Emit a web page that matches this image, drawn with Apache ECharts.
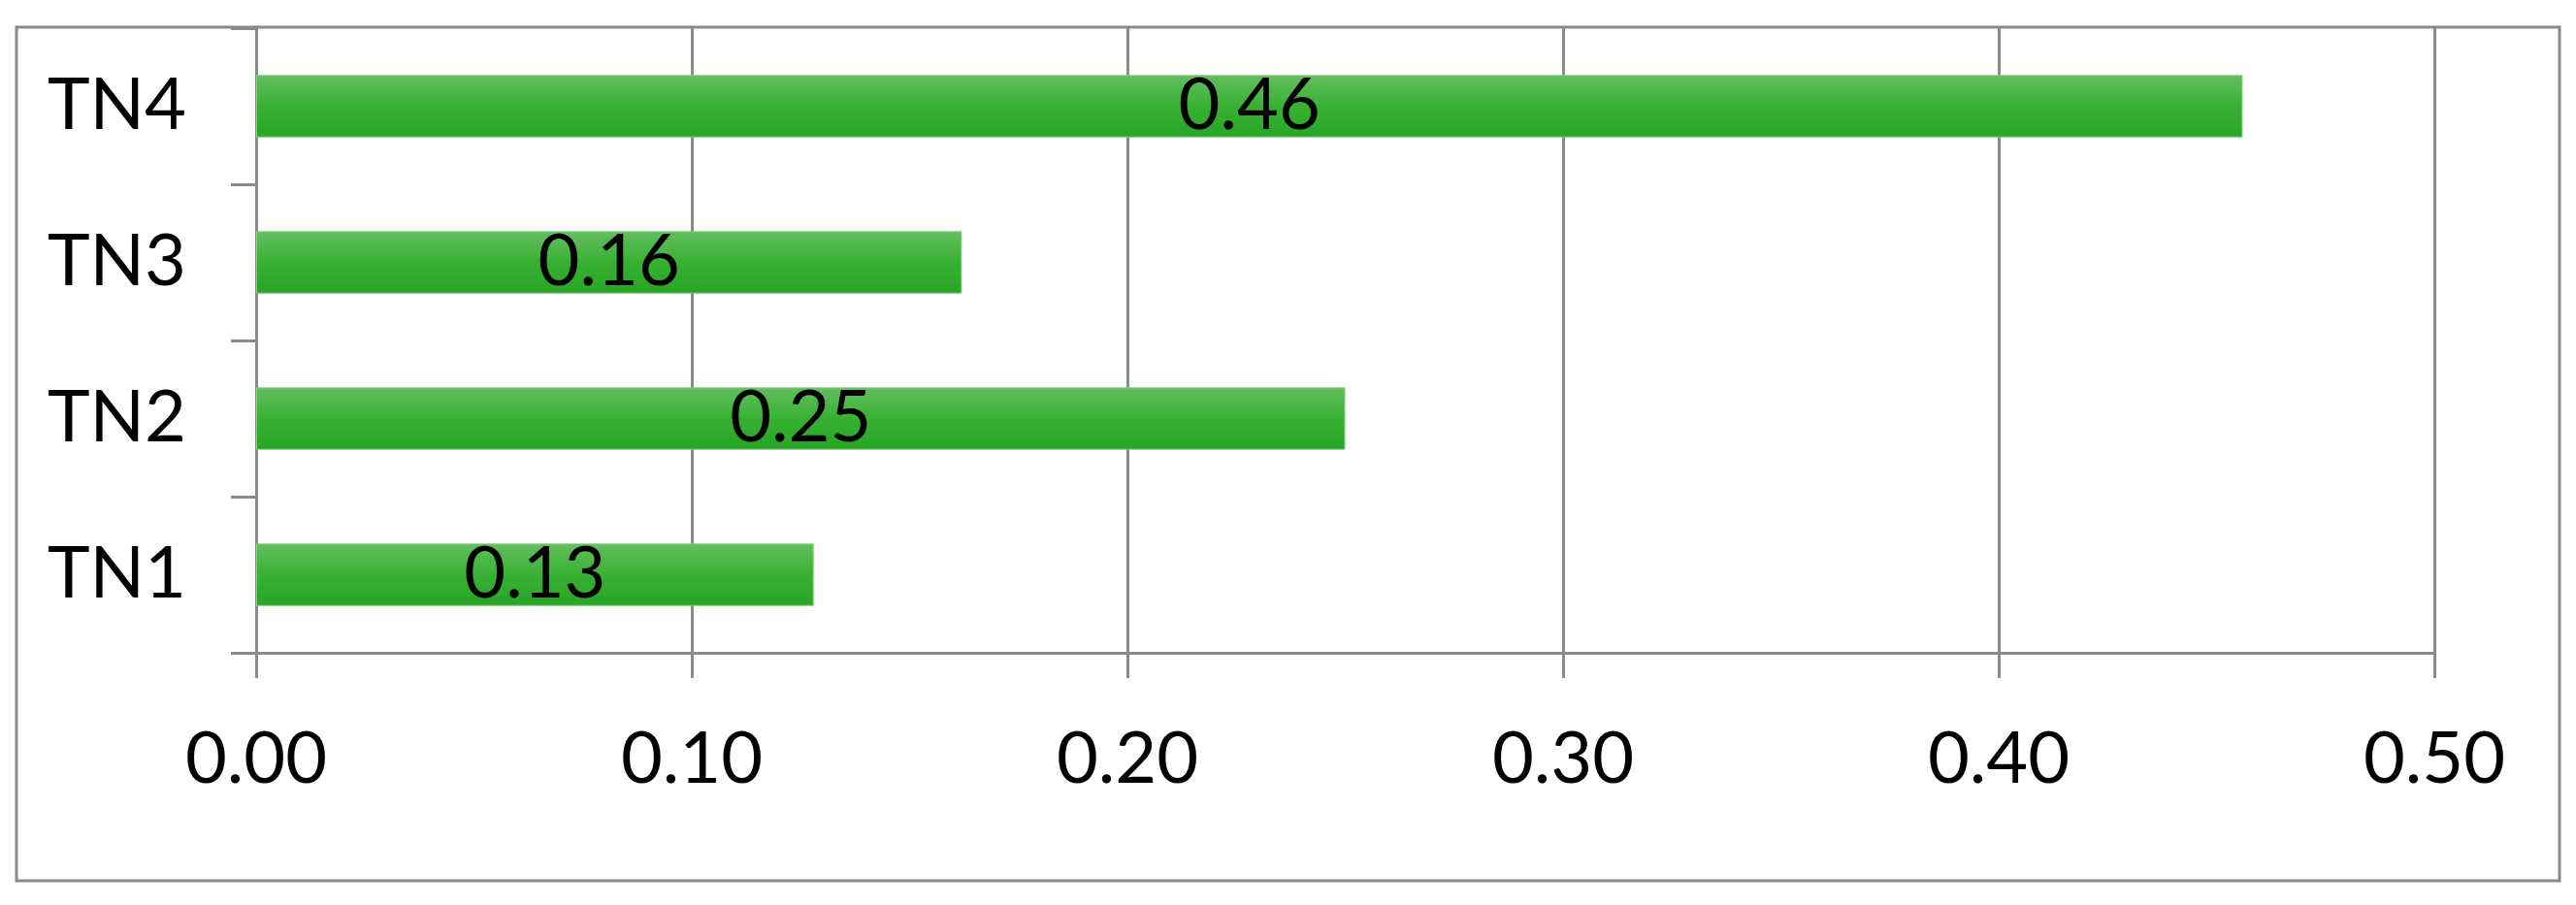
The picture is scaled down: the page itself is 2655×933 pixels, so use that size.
<!DOCTYPE html>
<html>
<head>
<meta charset="utf-8">
<script src="https://cdn.jsdelivr.net/npm/echarts@6/dist/echarts.min.js"></script>
<style>
  html, body { margin: 0; padding: 0; background: #fff; }
  #chart { width: 2655px; height: 933px; }
</style>
</head>
<body>
<div id="chart"></div>
<script>
// categories bottom -> top, like the y axis
const categories = ['TN1', 'TN2', 'TN3', 'TN4'];
const values = [0.128, 0.250, 0.162, 0.456];
const xTicks = [0, 0.1, 0.2, 0.3, 0.4, 0.5];

const grey = '#8a8a8a';
const font = 'Lato';

const myChart = echarts.init(document.getElementById('chart'));
const option = {
  animation: false,
  backgroundColor: '#fff',
  graphic: [
    {
      // outer chart frame
      type: 'rect',
      shape: { x: 17, y: 28, width: 2621, height: 880 },
      style: { fill: 'none', stroke: grey, lineWidth: 3 },
      silent: true
    }
  ],
  grid: {
    left: 264,
    right: 146,
    top: 29,
    bottom: 260,
    containLabel: false
  },
  xAxis: {
    type: 'value',
    min: xTicks[0],
    max: xTicks[xTicks.length - 1],
    interval: 0.1,
    axisLine: { show: true, lineStyle: { color: grey, width: 3 } },
    axisTick: { show: true, length: 26, lineStyle: { color: grey, width: 3 } },
    splitLine: { show: true, lineStyle: { color: grey, width: 3 } },
    axisLabel: {
      formatter: v => v.toFixed(2),
      color: '#000',
      fontFamily: font,
      fontSize: 74,
      margin: 73
    }
  },
  yAxis: {
    type: 'category',
    data: categories,
    axisLine: { show: true, lineStyle: { color: grey, width: 3 } },
    axisTick: { show: true, length: 26, lineStyle: { color: grey, width: 3 } },
    splitLine: { show: false },
    axisLabel: {
      color: '#000',
      fontFamily: font,
      fontSize: 74,
      margin: 72
    }
  },
  series: [
    {
      type: 'bar',
      data: values,
      barCategoryGap: '60%',
      itemStyle: {
        color: new echarts.graphic.LinearGradient(0, 0, 0, 1, [
          { offset: 0, color: '#64be60' },
          { offset: 0.5, color: '#38b133' },
          { offset: 1, color: '#28a526' }
        ]),
        borderColor: '#84d381',
        borderWidth: 1
      },
      label: {
        show: true,
        position: 'inside',
        formatter: p => p.value.toFixed(2),
        color: '#000',
        fontFamily: font,
        fontSize: 74
      }
    }
  ]
};
myChart.setOption(option);
</script>
</body>
</html>
